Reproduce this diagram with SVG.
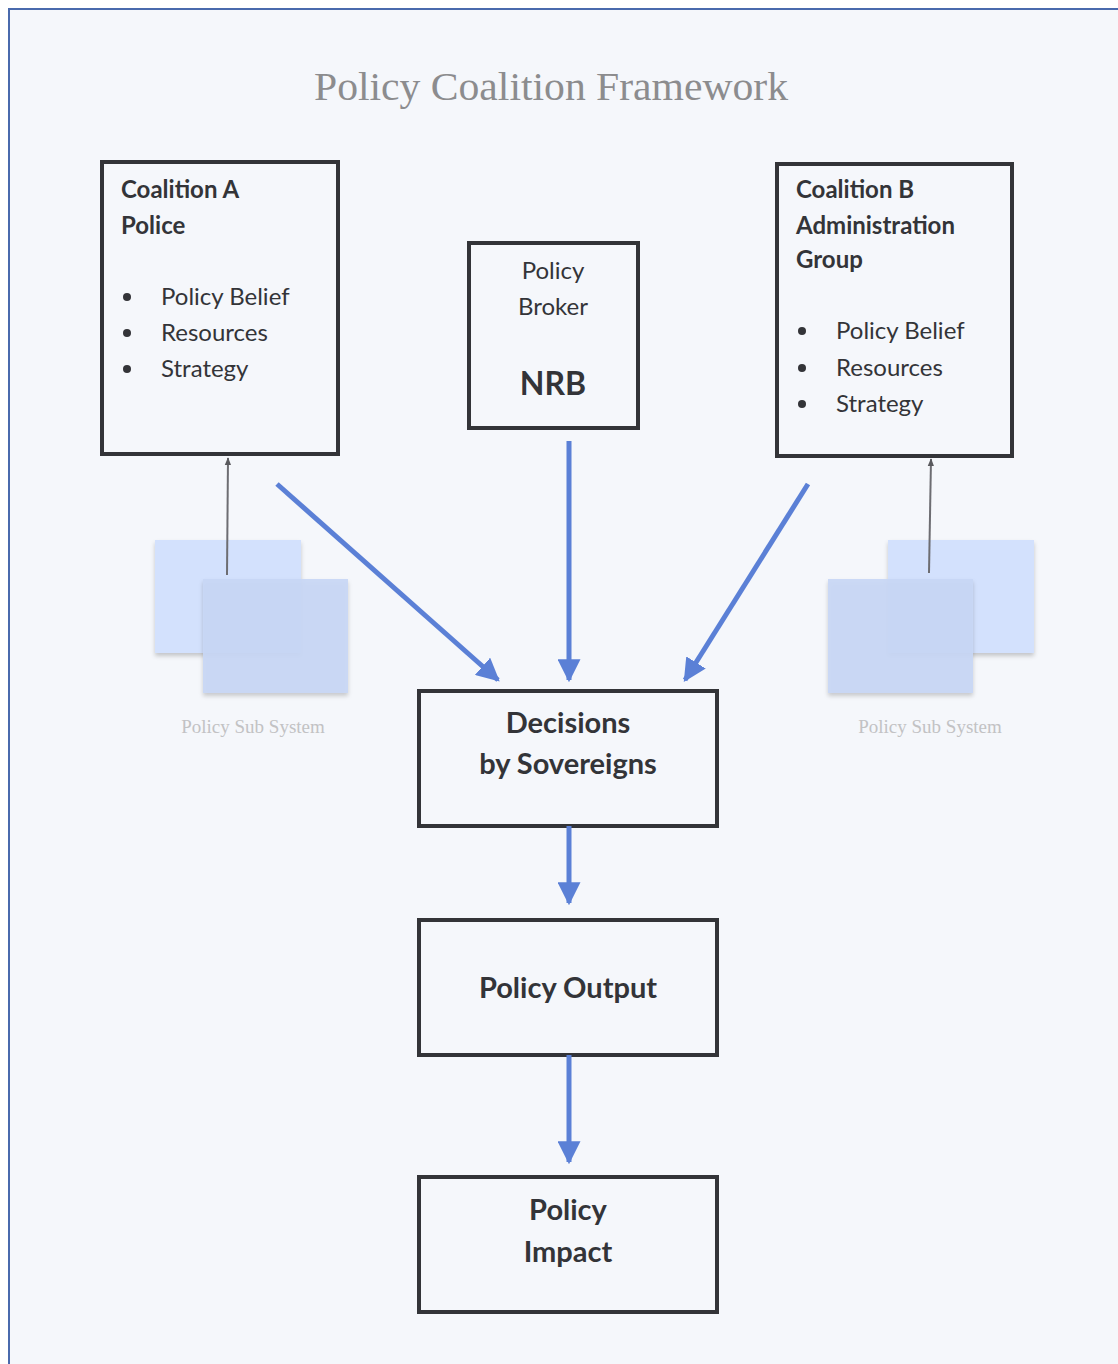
<svg xmlns="http://www.w3.org/2000/svg" width="1118" height="1364" viewBox="0 0 1118 1364">
  <style>
    .box { fill: none; stroke: #333438; stroke-width: 4; }
    .t { font-family: Lato, "Open Sans", sans-serif; fill: #333438; font-size: 24px; }
    .b { font-weight: bold; }
    .c { text-anchor: middle; }
    .big { font-size: 29px; }
    .nrb { font-size: 32px; }
    .flow { stroke: #5b80d6; stroke-width: 5; fill: none; marker-end: url(#head); }
    .feed { stroke: #6d6d72; stroke-width: 2; fill: none; marker-end: url(#small); }
    .sub { font-family: "Liberation Serif", serif; font-size: 19px; fill: #c2c2c4; text-anchor: middle; }
  </style>
  <defs>
    <marker id="head" viewBox="0 0 10 10" refX="9" refY="5" markerWidth="4.6" markerHeight="4.6" orient="auto" markerUnits="strokeWidth">
      <path d="M0,0 L10,5 L0,10 Z" fill="#5b80d6"/>
    </marker>
    <marker id="small" viewBox="0 0 10 10" refX="9" refY="5" markerWidth="4" markerHeight="4" orient="auto" markerUnits="strokeWidth">
      <path d="M0,1 L10,5 L0,9 Z" fill="#5a5a5e"/>
    </marker>
    <filter id="shadow" x="-10%" y="-10%" width="130%" height="130%">
      <feDropShadow dx="0" dy="3" stdDeviation="2" flood-color="#000" flood-opacity="0.2"/>
    </filter>
  </defs>

  <!-- page frame -->
  <rect x="0" y="0" width="1118" height="1364" fill="#ffffff"/>
  <rect x="9" y="9" width="1120" height="1370" fill="#f5f7fb" stroke="#4a6aad" stroke-width="2"/>

  <text x="551" y="100" font-family="Liberation Serif, serif" font-size="40" fill="#8c8c8e" text-anchor="middle" textLength="474" lengthAdjust="spacingAndGlyphs">Policy Coalition Framework</text>

  <!-- policy subsystems -->
  <g id="subsystem-a">
    <rect x="155" y="540" width="146" height="113" fill="#d3e1fd" filter="url(#shadow)"/>
    <rect x="203" y="579" width="145" height="114" fill="#c8d7f5" fill-opacity="0.92" filter="url(#shadow)"/>
    <text class="sub" x="253" y="733">Policy Sub System</text>
  </g>
  <g id="subsystem-b">
    <rect x="888" y="540" width="146" height="113" fill="#d3e1fd" filter="url(#shadow)"/>
    <rect x="828" y="579" width="145" height="114" fill="#c8d7f5" fill-opacity="0.92" filter="url(#shadow)"/>
    <text class="sub" x="930" y="733">Policy Sub System</text>
  </g>

  <!-- nodes -->
  <g id="coalition-a">
    <rect class="box" x="102" y="162" width="236" height="292"/>
    <text class="t b" x="121" y="198">Coalition A</text>
    <text class="t b" x="121" y="234">Police</text>
    <circle cx="127" cy="297" r="4" fill="#333438"/>
    <circle cx="127" cy="333" r="4" fill="#333438"/>
    <circle cx="127" cy="369" r="4" fill="#333438"/>
    <text class="t" x="161" y="305">Policy Belief</text>
    <text class="t" x="161" y="341">Resources</text>
    <text class="t" x="161" y="377">Strategy</text>
  </g>

  <g id="policy-broker">
    <rect class="box" x="469" y="243" width="169" height="185"/>
    <text class="t c" x="553" y="279">Policy</text>
    <text class="t c" x="553" y="315">Broker</text>
    <text class="t b c nrb" x="553" y="395">NRB</text>
  </g>

  <g id="coalition-b">
    <rect class="box" x="777" y="164" width="235" height="292"/>
    <text class="t b" x="796" y="198">Coalition B</text>
    <text class="t b" x="796" y="234">Administration</text>
    <text class="t b" x="796" y="268">Group</text>
    <circle cx="802" cy="331" r="4" fill="#333438"/>
    <circle cx="802" cy="368" r="4" fill="#333438"/>
    <circle cx="802" cy="404" r="4" fill="#333438"/>
    <text class="t" x="836" y="339">Policy Belief</text>
    <text class="t" x="836" y="376">Resources</text>
    <text class="t" x="836" y="412">Strategy</text>
  </g>

  <g id="decisions">
    <rect class="box" x="419" y="691" width="298" height="135"/>
    <text class="t b c big" x="568" y="733">Decisions</text>
    <text class="t b c big" x="568" y="774">by Sovereigns</text>
  </g>

  <g id="policy-output">
    <rect class="box" x="419" y="920" width="298" height="135"/>
    <text class="t b c big" x="568" y="998">Policy Output</text>
  </g>

  <g id="policy-impact">
    <rect class="box" x="419" y="1177" width="298" height="135"/>
    <text class="t b c big" x="568" y="1220">Policy</text>
    <text class="t b c big" x="568" y="1262">Impact</text>
  </g>

  <!-- connectors -->
  <g id="connectors">
    <line class="flow" x1="277" y1="484" x2="498" y2="680"/>
    <line class="flow" x1="569" y1="441" x2="569" y2="680"/>
    <line class="flow" x1="808" y1="484" x2="685" y2="680"/>
    <line class="flow" x1="569" y1="826" x2="569" y2="903"/>
    <line class="flow" x1="569" y1="1055" x2="569" y2="1162"/>
    <line class="feed" x1="227" y1="575" x2="228" y2="458"/>
    <line class="feed" x1="929" y1="573" x2="931" y2="459"/>
  </g>
</svg>
